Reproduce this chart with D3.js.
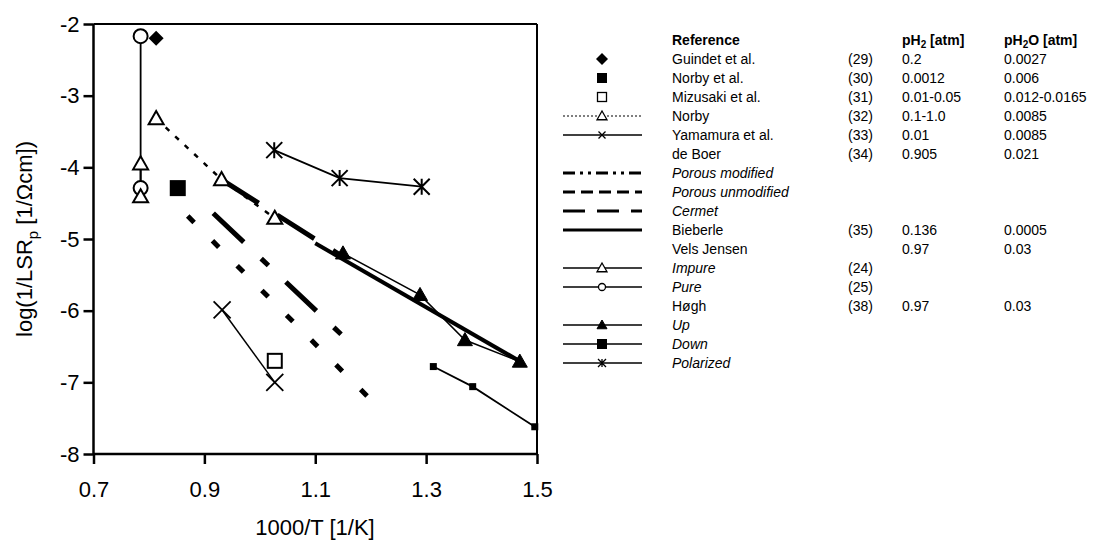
<!DOCTYPE html>
<html><head><meta charset="utf-8">
<script src="https://cdn.jsdelivr.net/npm/d3@7"></script>
<style>body{margin:0;background:#fff}svg{font-family:"Liberation Sans",Arial,sans-serif}</style>
</head><body><svg id="c" width="1114" height="550"></svg>
<script>
// ---- data (1000/T, log(1/LSRp)) ----
const guindet = [[0.813,-2.20]];
const norbyEtAl = [[0.852,-4.29]];
const mizusaki = [[1.027,-6.70]];
const norby = [[0.813,-3.32],[0.931,-4.17],[1.027,-4.71]];
const yamamura = [[0.932,-5.99],[1.027,-7.00]];
const porousModified = [[0.916,-4.64],[1.17,-6.50]];
const porousUnmodified = [[0.87,-4.68],[1.205,-7.28]];
const cermet = [[0.931,-4.17],[1.15,-5.25]];
const bieberle = [[1.10,-5.06],[1.47,-6.71]];
const impure = [[0.785,-3.95],[0.785,-4.41]];
const pure = [[0.785,-2.17],[0.785,-4.29]];
const up = [[1.15,-5.2],[1.289,-5.78],[1.37,-6.41],[1.469,-6.71]];
const down = [[1.313,-6.78],[1.384,-7.06],[1.496,-7.62]];
const polarized = [[1.026,-3.76],[1.144,-4.15],[1.292,-4.27]];

const xTicks = [0.7,0.9,1.1,1.3,1.5];
const yTicks = [-8,-7,-6,-5,-4,-3,-2];

const legendNames = ["Guindet et al.","Norby et al.","Mizusaki et al.","Norby","Yamamura et al.","de Boer","Porous modified","Porous unmodified","Cermet","Bieberle","Vels Jensen","Impure","Pure","Høgh","Up","Down","Polarized"];
const legendItalic = [false,false,false,false,false,false,true,true,true,false,false,true,true,false,true,true,true];
const legendRefs = ["(29)","(30)","(31)","(32)","(33)","(34)","","","","(35)","","(24)","(25)","(38)","","",""];
const legendPH2 = ["0.2","0.0012","0.01-0.05","0.1-1.0","0.01","0.905","","","","0.136","0.97","","","0.97","","",""];
const legendPH2O = ["0.0027","0.006","0.012-0.0165","0.0085","0.0085","0.021","","","","0.0005","0.03","","","0.03","","",""];

// ---- setup ----
const svg = d3.select("#c");
const x = d3.scaleLinear().domain([0.7,1.5]).range([93.5,537]);
const y = d3.scaleLinear().domain([-8,-2]).range([454,24]);
const line = d3.line().x(d=>x(d[0])).y(d=>y(d[1]));

function marker(g, type, cx, cy, s, sw){
  const h = s/2;
  if(type==="diamond"){
    g.append("path").attr("d",`M${cx},${cy-h}L${cx+h},${cy}L${cx},${cy+h}L${cx-h},${cy}Z`).attr("fill","#000");
  } else if(type==="squareF"){
    g.append("rect").attr("x",cx-h).attr("y",cy-h).attr("width",s).attr("height",s).attr("fill","#000");
  } else if(type==="squareO"){
    g.append("rect").attr("x",cx-h).attr("y",cy-h).attr("width",s).attr("height",s).attr("fill","#fff").attr("stroke","#000").attr("stroke-width",sw||2);
  } else if(type==="triO" || type==="triF"){
    const p = `M${cx},${cy-h}L${cx+h},${cy+h*0.75}L${cx-h},${cy+h*0.75}Z`;
    g.append("path").attr("d",p).attr("fill",type==="triF"?"#000":"#fff").attr("stroke","#000").attr("stroke-width",type==="triF"?1:(sw||2));
  } else if(type==="circleO"){
    g.append("circle").attr("cx",cx).attr("cy",cy).attr("r",h).attr("fill","#fff").attr("stroke","#000").attr("stroke-width",sw||2);
  } else if(type==="x"){
    g.append("path").attr("d",`M${cx-h},${cy-h}L${cx+h},${cy+h}M${cx-h},${cy+h}L${cx+h},${cy-h}`).attr("stroke","#000").attr("stroke-width",sw||1.8);
  } else if(type==="star"){
    g.append("path").attr("d",`M${cx-h},${cy-h}L${cx+h},${cy+h}M${cx-h},${cy+h}L${cx+h},${cy-h}M${cx},${cy-h}L${cx},${cy+h}`).attr("stroke","#000").attr("stroke-width",sw||2);
  }
}

const plot = svg.append("g");
function series(data, opts){
  if(opts.stroke){
    plot.append("path").attr("d",line(data)).attr("fill","none").attr("stroke","#000")
      .attr("stroke-width",opts.stroke).attr("stroke-dasharray",opts.dash||null);
  }
  if(opts.marker){
    data.forEach(d=>marker(plot,opts.marker,x(d[0]),y(d[1]),opts.size));
  }
}

series(porousUnmodified,{stroke:5,dash:"9,26"});
series(porousModified,{stroke:5,dash:"42,24,10,24"});
series(norby,{stroke:2.5,dash:"5,8"});
series(cermet,{stroke:5,dash:"44,22"});
series(bieberle,{stroke:4});
series(yamamura,{stroke:1.5});
series(pure,{stroke:1.8});
series(impure,{stroke:1.8});
series(up,{stroke:1.5});
series(down,{stroke:1.8});
series(polarized,{stroke:1.8});
series(pure,{marker:"circleO",size:14});
series(impure,{marker:"triO",size:15});
series(guindet,{marker:"diamond",size:15});
series(norbyEtAl,{marker:"squareF",size:16});
series(mizusaki,{marker:"squareO",size:14});
series(norby,{marker:"triO",size:15});
series(yamamura,{marker:"x",size:17});
series(up,{marker:"triF",size:15});
series(down,{marker:"squareF",size:7});
series(polarized,{marker:"star",size:16});

// axes
const xAxis = d3.axisBottom(x).tickValues(xTicks).tickSize(10).tickFormat(d3.format(".1f"));
const yAxis = d3.axisLeft(y).tickValues(yTicks).tickSize(10).tickFormat(d=>d3.format("d")(d).replace("−","-"));
const gx = svg.append("g").attr("transform","translate(0,454)").call(xAxis);
const gy = svg.append("g").attr("transform","translate(93.5,0)").call(yAxis);
[gx,gy].forEach(g=>{
  g.select(".domain").remove();
  g.selectAll("line").attr("stroke","#000").attr("stroke-width",2.5);
  g.selectAll("text").attr("fill","#000").attr("font-size",22).style("font-family","Liberation Sans, Arial, sans-serif");
});
gx.selectAll("text").attr("dy","1.35em");
gy.selectAll("text").attr("x",-14);
svg.append("line").attr("x1",93.5).attr("x2",537).attr("y1",454).attr("y2",454).attr("stroke","#000").attr("stroke-width",2.5);
svg.append("line").attr("x1",93.5).attr("x2",93.5).attr("y1",24).attr("y2",454).attr("stroke","#000").attr("stroke-width",2.5);
svg.append("line").attr("x1",93.5).attr("x2",537).attr("y1",24).attr("y2",24).attr("stroke","#000").attr("stroke-width",2);
svg.append("line").attr("x1",537).attr("x2",537).attr("y1",24).attr("y2",454).attr("stroke","#000").attr("stroke-width",2);

svg.append("text").attr("x",315).attr("y",535).attr("text-anchor","middle").attr("font-size",22).text("1000/T [1/K]");
const yt = svg.append("text").attr("transform","translate(32,239) rotate(-90)").attr("text-anchor","middle").attr("font-size",22);
yt.append("tspan").text("log(1/LSR");
yt.append("tspan").attr("font-size",15).attr("dy",6).text("p");
yt.append("tspan").attr("dy",-6).text(" [1/Ωcm])");

// legend
const lg = svg.append("g").attr("font-size",14);
const rowY = i => 59 + i*19;
const lx0 = 563, lx1 = 642, lmx = 602, tx = 672, rx = 848, p1x = 902, p2x = 1004;
const hdr = lg.append("g").attr("font-weight","bold");
hdr.append("text").attr("x",tx).attr("y",rowY(-1)+5).text("Reference");
const h1 = hdr.append("text").attr("x",p1x).attr("y",rowY(-1)+5);
h1.append("tspan").text("pH"); h1.append("tspan").attr("font-size",10).attr("dy",3).text("2"); h1.append("tspan").attr("dy",-3).text(" [atm]");
const h2 = hdr.append("text").attr("x",p2x).attr("y",rowY(-1)+5);
h2.append("tspan").text("pH"); h2.append("tspan").attr("font-size",10).attr("dy",3).text("2"); h2.append("tspan").attr("dy",-3).text("O [atm]");

const legendStyle = [
  {marker:"diamond",size:12},
  {marker:"squareF",size:10},
  {marker:"squareO",size:9,sw:1.3},
  {stroke:1.2,dash:"2,2",marker:"triO",size:10,sw:1.3},
  {stroke:1.5,marker:"x",size:7,sw:1.3},
  {},
  {stroke:3,dash:"12,5,3,5,3,5"},
  {stroke:3,dash:"12,6"},
  {stroke:3,dash:"22,12"},
  {stroke:3},
  {},
  {stroke:1.5,marker:"triO",size:10,sw:1.3},
  {stroke:1.5,marker:"circleO",size:7,sw:1.3},
  {},
  {stroke:1.5,marker:"triF",size:10},
  {stroke:1.5,marker:"squareF",size:10},
  {stroke:1.5,marker:"star",size:8,sw:1.3},
];
legendNames.forEach((n,i)=>{
  const yy = rowY(i);
  const st = legendStyle[i];
  if(st.stroke){
    lg.append("line").attr("x1",lx0).attr("x2",lx1).attr("y1",yy).attr("y2",yy).attr("stroke","#000")
      .attr("stroke-width",st.stroke).attr("stroke-dasharray",st.dash||null);
  }
  if(st.marker) marker(lg.append("g"),st.marker,lmx,yy,st.size,st.sw);
  lg.append("text").attr("x",tx).attr("y",yy+5).attr("font-style",legendItalic[i]?"italic":null).text(n);
  if(legendRefs[i]) lg.append("text").attr("x",rx).attr("y",yy+5).text(legendRefs[i]);
  if(legendPH2[i]) lg.append("text").attr("x",p1x).attr("y",yy+5).text(legendPH2[i]);
  if(legendPH2O[i]) lg.append("text").attr("x",p2x).attr("y",yy+5).text(legendPH2O[i]);
});
</script></body></html>
